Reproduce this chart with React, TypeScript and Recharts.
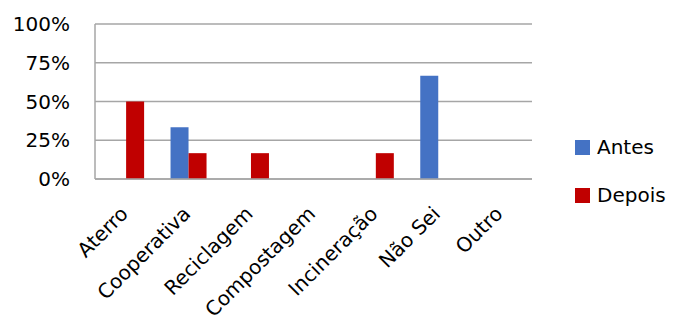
import { BarChart, Bar, XAxis, YAxis, CartesianGrid } from "recharts";

const categories = [
  "Aterro",
  "Cooperativa",
  "Reciclagem",
  "Compostagem",
  "Incineração",
  "Não Sei",
  "Outro",
];
const antes = [0, 33.33, 0, 0, 0, 66.67, 0];
const depois = [50, 16.67, 16.67, 0, 16.67, 0, 0];
const yTicks = [0, 25, 50, 75, 100];

const series = [
  { key: "Antes", color: "#4472c4" },
  { key: "Depois", color: "#c00000" },
];

const FONT = "'DejaVu Sans', sans-serif";
const GRID = "#a6a6a6";

const data = categories.map((name, i) => ({
  name,
  Antes: antes[i],
  Depois: depois[i],
}));

function XTick({ x, y, payload }: any) {
  return (
    <text
      x={x + 3}
      y={y + 28}
      transform={`rotate(-45, ${x + 3}, ${y + 28})`}
      textAnchor="end"
      fontFamily={FONT}
      fontSize={20}
      fill="#000"
    >
      {payload.value}
    </text>
  );
}

function YTick({ x, y, payload }: any) {
  return (
    <text
      x={x - 17}
      y={y}
      dy="0.36em"
      textAnchor="end"
      fontFamily={FONT}
      fontSize={20}
      fill="#000"
    >
      {payload.value}%
    </text>
  );
}

export default function App() {
  return (
    <div style={{ position: "absolute", left: 0, top: 0, width: 673, height: 323, background: "#fff" }}>
      <BarChart
        width={673}
        height={323}
        data={data}
        margin={{ top: 24, right: 141, bottom: 0, left: 0 }}
        barCategoryGap="21%"
        barGap={0}
      >
        <CartesianGrid vertical={false} stroke={GRID} strokeWidth={1.5} />
        <XAxis
          dataKey="name"
          height={144}
          interval={0}
          tickLine={false}
          axisLine={{ stroke: GRID, strokeWidth: 1.5 }}
          tick={<XTick />}
        />
        <YAxis
          width={95}
          domain={[0, 100]}
          ticks={yTicks}
          interval={0}
          tickLine={false}
          axisLine={{ stroke: GRID, strokeWidth: 1.5 }}
          tick={<YTick />}
        />
        {series.map((s) => (
          <Bar key={s.key} dataKey={s.key} fill={s.color} isAnimationActive={false} />
        ))}
      </BarChart>
      {/* legend, placed beside the plot like the original */}
      <div
        style={{
          position: "absolute",
          left: 575,
          top: 135,
          fontFamily: FONT,
          fontSize: 20,
          color: "#000",
        }}
      >
        {series.map((s, i) => (
          <div
            key={s.key}
            style={{
              display: "flex",
              alignItems: "center",
              height: 24,
              marginBottom: i === 0 ? 24 : 0,
            }}
          >
            <span
              style={{
                width: 15,
                height: 15,
                background: s.color,
                marginRight: 7,
                display: "inline-block",
              }}
            />
            {s.key}
          </div>
        ))}
      </div>
    </div>
  );
}
